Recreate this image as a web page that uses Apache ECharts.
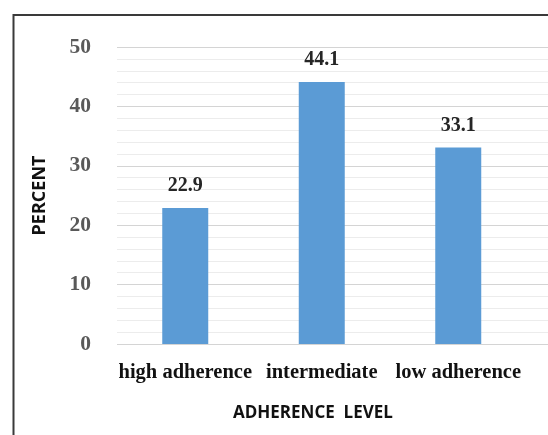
<!DOCTYPE html>
<html>
<head>
<meta charset="utf-8">
<script src="https://cdn.jsdelivr.net/npm/echarts@6/dist/echarts.min.js"></script>
<style>
  html, body { margin: 0; padding: 0; background: #ffffff; }
  #chart { width: 548px; height: 435px; }
</style>
</head>
<body>
<div id="chart"></div>
<script>
// Adherence levels and their share of respondents (%)
const categories = ['high adherence', 'intermediate', 'low adherence'];
const percentValues = [22.9, 44.1, 33.1];
const yTicks = { min: 0, max: 50, interval: 10 };

const serif = '"Liberation Serif", "DejaVu Serif", serif';
const sans = '"Open Sans", "Liberation Sans", sans-serif';

const chart = echarts.init(document.getElementById('chart'), null, { renderer: 'canvas' });

const plotTop = 47;
const plotBottom = 91;
const plotLeft = 117;

chart.setOption({
  animation: false,
  backgroundColor: '#ffffff',
  grid: [
    // grid 0: carries the horizontal gridlines across the full width
    { left: plotLeft, right: 0, top: plotTop, bottom: plotBottom, containLabel: false },
    // grid 1: carries the bars and the category labels
    { left: plotLeft, right: 21.5, top: plotTop, bottom: plotBottom, containLabel: false }
  ],
  xAxis: [
    { gridIndex: 0, type: 'value', min: 0, max: 1, show: false },
    {
      gridIndex: 1,
      type: 'category',
      data: categories,
      axisLine: { show: false },
      axisTick: { show: false },
      axisLabel: {
        margin: 18,
        color: '#111111',
        fontFamily: serif,
        fontWeight: 'bold',
        fontSize: 20.5,
        interval: 0
      }
    }
  ],
  yAxis: [
    {
      gridIndex: 0,
      type: 'value',
      min: yTicks.min,
      max: yTicks.max,
      interval: yTicks.interval,
      axisLine: { show: false },
      axisTick: { show: false },
      axisLabel: {
        margin: 26,
        color: '#595959',
        fontFamily: serif,
        fontWeight: 'bold',
        fontSize: 21.5
      },
      splitLine: { show: true, lineStyle: { color: '#d4d4d4', width: 1.2 } },
      minorTick: { show: false, splitNumber: 5 },
      minorSplitLine: { show: true, lineStyle: { color: '#ececec', width: 1 } },
      name: 'PERCENT',
      nameLocation: 'middle',
      nameRotate: 90,
      nameGap: 68,
      nameTextStyle: {
        color: '#111111',
        fontFamily: sans,
        fontWeight: 'bold',
        fontSize: 18
      }
    },
    {
      gridIndex: 1,
      type: 'value',
      min: yTicks.min,
      max: yTicks.max,
      interval: yTicks.interval,
      show: false
    }
  ],
  series: [
    {
      type: 'bar',
      xAxisIndex: 1,
      yAxisIndex: 1,
      data: percentValues,
      barWidth: 46,
      itemStyle: { color: '#5b9bd5' },
      label: {
        show: true,
        position: 'top',
        distance: 12,
        color: '#262626',
        fontFamily: serif,
        fontWeight: 'bold',
        fontSize: 20,
        formatter: p => p.value.toFixed(1)
      }
    }
  ],
  graphic: [
    // outer frame (left and top edges)
    {
      type: 'polyline',
      shape: { points: [[13.5, 435], [13.5, 15], [548, 15]] },
      style: { stroke: '#3a3a3a', lineWidth: 2, fill: null },
      silent: true
    },
    {
      type: 'text',
      left: 233,
      top: 405,
      style: {
        text: 'ADHERENCE  LEVEL',
        fill: '#111111',
        font: 'bold 17px ' + sans
      }
    }
  ]
});
</script>
</body>
</html>
